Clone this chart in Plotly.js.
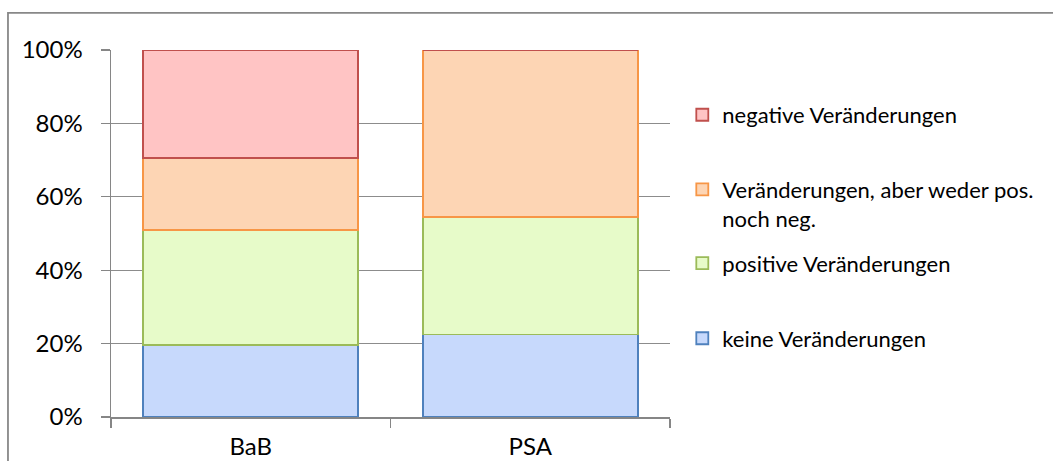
<!DOCTYPE html>
<html>
<head>
<meta charset="utf-8">
<script src="https://cdn.plot.ly/plotly-3.0.1.min.js"></script>
<style>html,body{margin:0;padding:0;background:#fff;}#chart{width:1053px;height:461px;}</style>
</head>
<body>
<div id="chart"></div>
<script>
const categories = ["BaB", "PSA"];
const keineVeraenderungen = [19.7, 22.5];
const positiveVeraenderungen = [31.2, 31.9];
const wederPosNochNeg = [19.7, 45.6];
const negativeVeraenderungen = [29.4, 0];
const seriesNames = [
  "keine Veränderungen",
  "positive Veränderungen",
  "Veränderungen, aber weder pos.<br>noch neg.",
  "negative Veränderungen"
];
const yTickValues = [0, 20, 40, 60, 80, 100];
const yTickLabels = ["0%", "20%", "40%", "60%", "80%", "100%"];

const fills = ["#c7d9fc", "#e7fbc9", "#fdd5b4", "#ffc4c4"];
const borders = ["#4f81bd", "#9bbb59", "#f79646", "#c0504d"];
const seriesValues = [keineVeraenderungen, positiveVeraenderungen, wederPosNochNeg, negativeVeraenderungen];
const legendIds = ["legend4", "legend3", "legend2", "legend"];

const traces = seriesValues.map((vals, i) => ({
  type: "bar",
  name: seriesNames[i],
  x: categories,
  y: vals,
  legend: legendIds[i],
  marker: { color: fills[i], line: { color: borders[i], width: 1.8 } },
  hoverinfo: "name+y"
}));

const FONT = "Lato, 'Open Sans', sans-serif";
const legendBase = {
  x: 1.022, xanchor: "left", yanchor: "middle",
  font: { family: FONT, size: 22, color: "#000" },
  bgcolor: "rgba(0,0,0,0)", valign: "top"
};

const layout = {
  width: 1053, height: 461,
  margin: { l: 111, r: 383, t: 50, b: 44, pad: 0 },
  paper_bgcolor: "#fff", plot_bgcolor: "#fff",
  barmode: "stack",
  bargap: 0.23,
  font: { family: FONT, color: "#000" },
  xaxis: {
    type: "category",
    tickson: "boundaries",
    ticks: "outside", ticklen: 9, tickwidth: 1.3, tickcolor: "#868686",
    showline: true, linecolor: "#868686", linewidth: 1.5,
    tickfont: { family: FONT, size: 24, color: "#000" },
    ticklabelstandoff: 8,
    showgrid: false, zeroline: false, fixedrange: true
  },
  yaxis: {
    range: [0, 100],
    tickmode: "array",
    tickvals: yTickValues,
    ticktext: yTickLabels,
    ticks: "outside", ticklen: 9, tickwidth: 1.3, tickcolor: "#868686",
    showline: true, linecolor: "#868686", linewidth: 1.5,
    showgrid: true, gridcolor: "#8c8c8c", gridwidth: 1.3,
    zeroline: false,
    tickfont: { family: FONT, size: 24, color: "#000" },
    ticklabelstandoff: 13,
    fixedrange: true
  },
  legend: Object.assign({}, legendBase, { y: 0.823 }),
  legend2: Object.assign({}, legendBase, { y: 0.58 }),
  legend3: Object.assign({}, legendBase, { y: 0.419 }),
  legend4: Object.assign({}, legendBase, { y: 0.214 }),
  shapes: [{
    type: "rect", xref: "paper", yref: "paper",
    x0: -0.1843, x1: 2, y0: -0.5, y1: 1.101,
    line: { color: "#888888", width: 1.8 }, fillcolor: "rgba(0,0,0,0)", layer: "below"
  }],
  showlegend: true
};

Plotly.newPlot("chart", traces, layout, { displayModeBar: false, staticPlot: true });
</script>
</body>
</html>
